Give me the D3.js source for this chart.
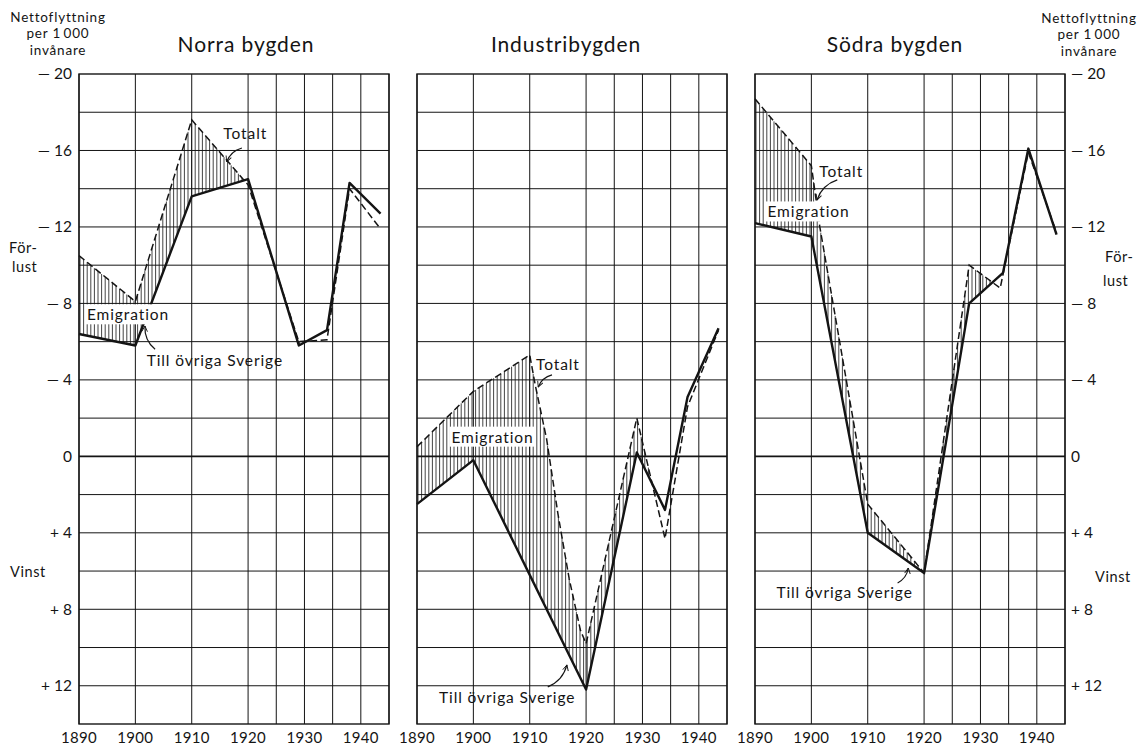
<!DOCTYPE html>
<html><head><meta charset="utf-8">
<script src="https://cdn.jsdelivr.net/npm/d3@7"></script>
<style>
body{margin:0;background:#fff}
text{font-family:Lato,"Open Sans",sans-serif;fill:#141414}
</style>
</head><body>
<svg id="c" width="1141" height="748"></svg>
<script>
// ---- data ----
const panelTitles = ["Norra bygden", "Industribygden", "Södra bygden"];
const gridYears = [1890, 1900, 1910, 1920, 1925, 1930, 1935, 1940, 1945];
const tickYears = [1890, 1900, 1910, 1920, 1930, 1940];
const yTickValues = [-20, -16, -12, -8, -4, 0, 4, 8, 12];
const yTickLabels = ["\u2014 20", "\u2014 16", "\u2014 12", "\u2014 8", "\u2014 4", "0", "+ 4", "+ 8", "+ 12"];

// Norra bygden
const norraTotaltYears = [1890, 1900, 1910, 1920, 1929, 1934, 1938, 1943.5];
const norraTotalt      = [-10.5, -8.1, -17.6, -14.2, -6.0, -6.1, -14.0, -11.9];
const norraSverigeYears = [1890, 1900, 1910, 1920, 1929, 1934, 1938, 1943.5];
const norraSverige      = [-6.4, -5.8, -13.6, -14.5, -5.8, -6.6, -14.3, -12.7];

// Industribygden
const industriTotaltYears = [1890, 1900, 1910, 1911, 1913, 1915, 1917, 1919, 1920, 1929, 1934, 1938, 1943.5];
const industriTotalt      = [-0.5, -3.4, -5.3, -3.7, -0.9, 3.0, 6.4, 9.1, 9.8, -2.0, 4.3, -2.6, -6.6];
const industriSverigeYears = [1890, 1900, 1920, 1929, 1934, 1938, 1943.5];
const industriSverige      = [2.5, 0.2, 12.2, -0.2, 2.8, -3.1, -6.7];

// Södra bygden
const sodraTotaltYears = [1890, 1900, 1901.5, 1910, 1920, 1928, 1933.5, 1938.5, 1943.5];
const sodraTotalt      = [-18.7, -15.2, -12.0, 2.5, 6.1, -10.0, -8.8, -15.9, -11.7];
const sodraSverigeYears = [1890, 1900, 1910, 1920, 1928, 1934, 1938.5, 1943.5];
const sodraSverige      = [-12.2, -11.5, 4.0, 6.1, -8.0, -9.6, -16.1, -11.6];

// annotation labels: [text, year, value, whiteBackground]
const norraLabels = [["Totalt", 1919.5, -16.9, false], ["Emigration", 1898.7, -7.4, true], ["Till övriga Sverige", 1914.1, -5.0, false]];
const industriLabels = [["Totalt", 1915.0, -4.8, false], ["Emigration", 1903.4, -1.0, true], ["Till övriga Sverige", 1906.0, 12.64, false]];
const sodraLabels = [["Totalt", 1905.3, -14.87, false], ["Emigration", 1899.5, -12.78, true], ["Till övriga Sverige", 1905.9, 7.15, false]];
// arrows: [fromYear, fromValue, toYear, toValue, bend]
const norraArrows = [[1918.9, -16.13, 1916.2, -15.41, 0.25], [1903.5, -5.6, 1901.7, -6.82, -0.25]];
const industriArrows = [[1913.95, -4.26, 1911.5, -3.63, 0.25], [1913.2, 12.06, 1916.6, 10.91, 0.25]];
const sodraArrows = [[1904.6, -14.46, 1901.0, -13.41, 0.25], [1915.3, 6.62, 1917.2, 5.84, 0.25]];

// ---- layout ----
const svg = d3.select("#c");
const topY = 74, bottomY = 724, pw = 310;
const panelLeft = [79, 417, 755];
const titleX = [246, 566, 895];
const y = d3.scaleLinear().domain([-20, 14]).range([topY, bottomY]);
const ink = "#141414";

const panels = [
  {tY: norraTotaltYears, tV: norraTotalt, sY: norraSverigeYears, sV: norraSverige, labels: norraLabels, arrows: norraArrows},
  {tY: industriTotaltYears, tV: industriTotalt, sY: industriSverigeYears, sV: industriSverige, labels: industriLabels, arrows: industriArrows},
  {tY: sodraTotaltYears, tV: sodraTotalt, sY: sodraSverigeYears, sV: sodraSverige, labels: sodraLabels, arrows: sodraArrows}
];

function interp(years, vals, t) {
  if (t < years[0] || t > years[years.length - 1]) return null;
  for (let i = 0; i < years.length - 1; i++) {
    if (t >= years[i] && t <= years[i + 1]) {
      const f = (t - years[i]) / (years[i + 1] - years[i]);
      return vals[i] + f * (vals[i + 1] - vals[i]);
    }
  }
  return vals[vals.length - 1];
}

const defs = svg.append("defs");
defs.append("marker").attr("id", "ah").attr("viewBox", "0 0 10 10")
  .attr("refX", 9).attr("refY", 5).attr("markerWidth", 7).attr("markerHeight", 7)
  .attr("orient", "auto").attr("markerUnits", "userSpaceOnUse")
  .append("path").attr("d", "M1,1 L9,5 L1,9").attr("fill", "none")
  .attr("stroke", ink).attr("stroke-width", 1.3);

panels.forEach((p, i) => {
  const L = panelLeft[i];
  const x = d3.scaleLinear().domain([1890, 1945]).range([L, L + pw]);
  const g = svg.append("g");

  // grid
  g.selectAll("line.h").data(d3.range(-18, 14, 2)).join("line")
    .attr("x1", L).attr("x2", L + pw).attr("y1", d => y(d)).attr("y2", d => y(d))
    .attr("stroke", ink).attr("stroke-width", d => d === 0 ? 1.7 : 1);
  g.selectAll("line.v").data(gridYears).join("line")
    .attr("x1", d => x(d)).attr("x2", d => x(d)).attr("y1", topY).attr("y2", bottomY)
    .attr("stroke", ink).attr("stroke-width", 1);
  g.append("rect").attr("x", L).attr("y", topY).attr("width", pw).attr("height", bottomY - topY)
    .attr("fill", "none").attr("stroke", ink).attr("stroke-width", 1.4);

  // hatching between Totalt and Till övriga Sverige (emigration)
  const y0 = Math.max(p.tY[0], p.sY[0]);
  const y1 = Math.min(p.tY[p.tY.length - 1], p.sY[p.sY.length - 1]);
  const hatch = [];
  for (let px = x(y0) + 1; px <= x(y1); px += 3.6) {
    const t = x.invert(px);
    const a = interp(p.tY, p.tV, t), b = interp(p.sY, p.sV, t);
    if (a !== null && b !== null && a < b - 0.05) hatch.push({px, a, b});
  }
  g.selectAll("line.hatch").data(hatch).join("line")
    .attr("x1", d => d.px).attr("x2", d => d.px)
    .attr("y1", d => y(d.a)).attr("y2", d => y(d.b))
    .attr("stroke", ink).attr("stroke-width", 0.8);

  const line = d3.line().x(d => x(d[0])).y(d => y(d[1]));
  g.append("path").datum(p.tY.map((yr, k) => [yr, p.tV[k]]))
    .attr("d", line).attr("fill", "none").attr("stroke", ink)
    .attr("stroke-width", 1.5).attr("stroke-dasharray", "7,3.5");
  g.append("path").datum(p.sY.map((yr, k) => [yr, p.sV[k]]))
    .attr("d", line).attr("fill", "none").attr("stroke", ink)
    .attr("stroke-width", 2.4).attr("stroke-linejoin", "round");

  // labels
  p.labels.forEach(lb => {
    const t = g.append("text").attr("x", x(lb[1])).attr("y", y(lb[2])).attr("dy", "0.35em")
      .attr("text-anchor", "middle").attr("font-size", 15.5).attr("letter-spacing", 0.9).text(lb[0]);
    if (lb[3]) {
      const bb = t.node().getBBox();
      g.insert("rect", () => t.node()).attr("x", bb.x - 2).attr("y", bb.y - 1)
        .attr("width", bb.width + 4).attr("height", bb.height + 2).attr("fill", "#fff");
    }
  });
  // arrows
  p.arrows.forEach(a => {
    const x0 = x(a[0]), yA = y(a[1]), x1 = x(a[2]), yB = y(a[3]);
    const mx = (x0 + x1) / 2, my = (yA + yB) / 2;
    const dx = x1 - x0, dy = yB - yA;
    const cx = mx - dy * a[4], cy = my + dx * a[4];
    g.append("path").attr("d", `M${x0},${yA} Q${cx},${cy} ${x1},${yB}`)
      .attr("fill", "none").attr("stroke", ink).attr("stroke-width", 1.2)
      .attr("marker-end", "url(#ah)");
  });

  // x ticks
  g.selectAll("text.xt").data(tickYears).join("text")
    .attr("x", d => x(d)).attr("y", 738).attr("dy", "0.35em")
    .attr("text-anchor", "middle").attr("font-size", 15).attr("letter-spacing", 0.3).text(d => d);

  // title
  g.append("text").attr("x", titleX[i]).attr("y", 45).attr("dy", "0.35em")
    .attr("text-anchor", "middle").attr("font-size", 21).attr("letter-spacing", 0.9)
    .text(panelTitles[i]);
});

// y axes, left and right
const sides = [{x: 72, anchor: "end"}, {x: 1071, anchor: "start"}];
sides.forEach(s => {
  svg.selectAll(null).data(yTickValues).join("text")
    .attr("x", s.x).attr("y", d => y(d)).attr("dy", "0.35em")
    .attr("text-anchor", s.anchor).attr("font-size", 15.5)
    .text((d, k) => yTickLabels[k]);
});

// headers
const header = ["Nettoflyttning", "per 1\u2009000", "invånare"];
[[58, [17, 33, 50]], [1089, [18, 34, 51]]].forEach(h => {
  header.forEach((t, k) => {
    svg.append("text").attr("x", h[0]).attr("y", h[1][k]).attr("dy", "0.35em")
      .attr("text-anchor", "middle").attr("font-size", 13.5).attr("letter-spacing", 0.8).text(t);
  });
});
// side words
[[9, -10.9, "För-"], [12, -9.9, "lust"], [10, 6.05, "Vinst"],
 [1105, -10.45, "För-"], [1103, -9.2, "lust"], [1095, 6.3, "Vinst"]].forEach(w => {
  svg.append("text").attr("x", w[0]).attr("y", y(w[1])).attr("dy", "0.35em")
    .attr("font-size", 14.5).attr("letter-spacing", 0.6).text(w[2]);
});
</script>
</body></html>
